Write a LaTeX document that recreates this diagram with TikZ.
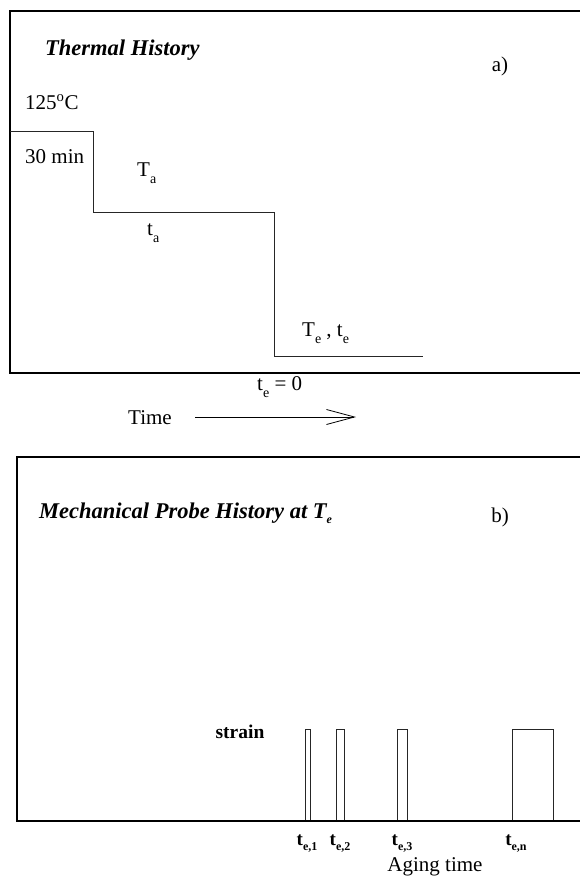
\documentclass[tikz,border=0pt]{standalone}
\usepackage{fontspec}
\setmainfont{Liberation Serif}
\usetikzlibrary{arrows.meta, positioning}

\newcommand{\lowsub}[1]{\raisebox{-7pt}{\fontsize{14}{14}\selectfont #1}}
\newcommand{\boldsub}[1]{\raisebox{-5pt}{\fontsize{12}{12}\selectfont\bfseries #1}}

\begin{document}
\begin{tikzpicture}[
  x=1pt, y=-1pt,
  every node/.style={font=\fontsize{21}{24}\selectfont, inner sep=0pt},
  heading/.style={font=\fontsize{22.5}{26}\selectfont\bfseries\itshape, anchor=west},
  tick/.style={font=\fontsize{19}{22}\selectfont\bfseries},
  frame/.style={line width=1.3pt, draw=black},
  curve/.style={line width=0.9pt, draw=black!85},
  timearrow/.style={-{Straight Barb[length=28pt, width=15pt]}, line width=0.8pt}
]
\useasboundingbox (0,0) rectangle (580,880);

% === a) THERMAL HISTORY ===
\draw[frame] (580,11) -- (10,11) -- (10,373) -- (580,373);
\node[heading] (thtitle) at (45,50) {Thermal History};
\node (la) at (500,66) {a)};

% temperature steps
\coordinate (s0) at (10,131);
\coordinate (s1) at (93,131);
\coordinate (s2) at (93,212);
\coordinate (s3) at (274,212);
\coordinate (s4) at (274,356);
\coordinate (s5) at (423,356);
\draw[curve] (s0) -- (s1) -- (s2) -- (s3) -- (s4) -- (s5);

\node[anchor=west] (tinit) at (25,102) {125\textsuperscript{o}C};
\node[anchor=west] (hold) at (25,157) {30 min};
\node[anchor=west] (Ta) at (137,173) {T\lowsub{a}};
\node[anchor=west] (ta) at (147,233) {t\lowsub{a}};
\node[anchor=west] (Te) at (302,333) {T\lowsub{e} , t\lowsub{e}};
\node[anchor=west] (tzero) at (257,387) {t\lowsub{e} = 0};

% time axis
\node[anchor=west] (time) at (128,418) {Time};
\coordinate (tstart) at (195,417);
\coordinate (tend) at (356,417);
\draw[timearrow] (tstart) -- (tend);

% === b) MECHANICAL PROBE HISTORY ===
\draw[frame] (580,457) -- (17,457) -- (17,821) -- (580,821);
\node[heading] (mptitle) at (39,513) {Mechanical Probe History at \textit{T}\boldsub{\itshape e}};
\node (lb) at (500,517) {b)};
\node[font=\fontsize{19.5}{22}\selectfont\bfseries] (strain) at (240,732) {strain};

% strain pulses
\foreach \xa/\xb in {305.5/310, 336/344, 397/407, 512/553}
  \draw[curve] (\xa,820) -- (\xa,729) -- (\xb,729) -- (\xb,820);

\node[tick] (te1) at (307,844) {t\boldsub{e,1}};
\node[tick] (te2) at (340,844) {t\boldsub{e,2}};
\node[tick] (te3) at (402,844) {t\boldsub{e,3}};
\node[tick] (ten) at (516,844) {t\boldsub{e,n}};
\node (aging) at (435,867) {Aging time};

\end{tikzpicture}
\end{document}
